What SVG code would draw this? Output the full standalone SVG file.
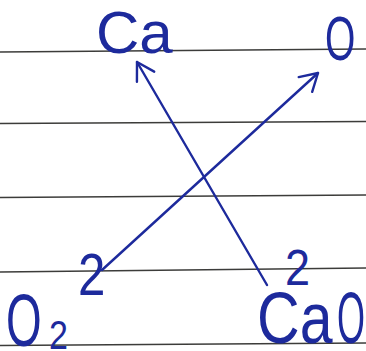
<svg xmlns="http://www.w3.org/2000/svg" width="366" height="351" viewBox="0 0 366 351">
<style>
.paper{stroke:#3c3c3a;stroke-width:1.6;fill:none}
.ink{fill:#1d2a9c;font-family:"Liberation Sans",Arial,sans-serif}
.conn{stroke:#1d2a9c;stroke-width:2.4;fill:none;stroke-linecap:round}
</style>
<defs>
<marker id="v" viewBox="-20 -12 24 24" refX="0" refY="0" markerWidth="24" markerHeight="24" markerUnits="userSpaceOnUse" orient="auto">
<path d="M-17,-10 L0,0 L-17,10" fill="none" stroke="#1d2a9c" stroke-width="2.4" stroke-linecap="round" stroke-linejoin="round"/>
</marker>
</defs>
<rect width="366" height="351" fill="#ffffff"/>
<g id="paper">
<line class="paper" x1="0" y1="52" x2="366" y2="49"/>
<line class="paper" x1="0" y1="123.5" x2="366" y2="121.5"/>
<line class="paper" x1="0" y1="197.5" x2="366" y2="195"/>
<line class="paper" x1="0" y1="272" x2="366" y2="268"/>
<line class="paper" x1="0" y1="345.5" x2="366" y2="343"/>
</g>
<g id="connectors">
<line class="conn" x1="267" y1="285" x2="137" y2="62" marker-end="url(#v)"/>
<line class="conn" x1="102" y1="270" x2="318" y2="73" marker-end="url(#v)"/>
</g>
<g id="Ca">
<text class="ink" x="96" y="53" font-size="60">Ca</text>
</g>
<g id="O">
<text class="ink" font-size="63" transform="translate(325,60) scale(0.62,1)">O</text>
</g>
<g id="O2">
<text class="ink" font-size="60" transform="translate(78,295) scale(0.82,1)">2</text>
<text class="ink" font-size="74" transform="translate(6,346) scale(0.62,1)">O</text>
<text class="ink" font-size="40" transform="translate(49,349) scale(0.85,1)">2</text>
</g>
<g id="CaO">
<text class="ink" font-size="50" transform="translate(285,285) scale(0.9,1)">2</text>
<text class="ink" font-size="72" transform="translate(257,343) scale(0.82,1)">Ca</text>
<text class="ink" font-size="72" transform="translate(337,343) scale(0.5,1)">O</text>
</g>
</svg>
